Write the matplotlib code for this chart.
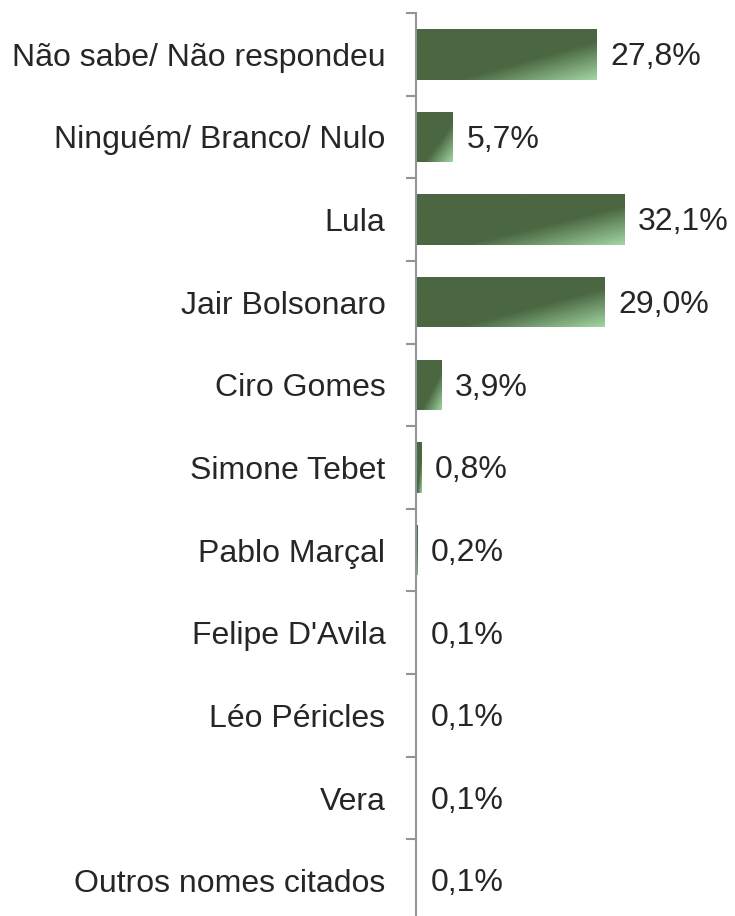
import numpy as np
import matplotlib.pyplot as plt
from matplotlib.colors import LinearSegmentedColormap

# Chart data
categories = [
    "Não sabe/ Não respondeu",
    "Ninguém/ Branco/ Nulo",
    "Lula",
    "Jair Bolsonaro",
    "Ciro Gomes",
    "Simone Tebet",
    "Pablo Marçal",
    "Felipe D'Avila",
    "Léo Péricles",
    "Vera",
    "Outros nomes citados",
]
values = [27.8, 5.7, 32.1, 29.0, 3.9, 0.8, 0.2, 0.1, 0.1, 0.1, 0.1]
value_labels = ["27,8%", "5,7%", "32,1%", "29,0%", "3,9%", "0,8%",
                "0,2%", "0,1%", "0,1%", "0,1%", "0,1%"]

plt.rcParams["font.family"] = ["Liberation Sans", "DejaVu Sans"]

fig = plt.figure(figsize=(7.35, 9.16), dpi=100)
# axis runs from y=13px to just below the bottom edge of the figure
ax = fig.add_axes([416 / 735, -6 / 916, 1 - 416 / 735, (916 - 13 + 6) / 916])

y = np.arange(len(categories))
bars = ax.barh(y, values, height=0.61, color="#4a6741")

# diagonal gradient: dark green to light green at the bottom-right corner
cmap = LinearSegmentedColormap.from_list(
    "grn", [(0, "#4a6741"), (0.62, "#4a6741"), (1, "#a2d4a2")])
nx, ny = 100, 40
u = np.linspace(0, 1, nx)[None, :]
d = np.linspace(0, 1, ny)[:, None]
grad = (u + d) / 2
for b in bars:
    x0, y0 = b.get_x(), b.get_y()
    w, h = b.get_width(), b.get_height()
    im = ax.imshow(grad, cmap=cmap, vmin=0, vmax=1, aspect="auto",
                   extent=[x0, x0 + w, y0 + h, y0], origin="upper",
                   interpolation="bilinear", zorder=2)
    im.set_clip_path(b)

for yi, v, lab in zip(y, values, value_labels):
    ax.annotate(lab, (v, yi), xytext=(10, -2), textcoords="offset points",
                va="center", ha="left", fontsize=23, color="#262626")

ax.set_xlim(0, 49.2)
ax.set_ylim(len(categories) - 0.5, -0.5)

ax.set_yticks(y)
ax.set_yticklabels(categories, fontsize=23, color="#262626")
ax.tick_params(axis="y", which="major", length=0, pad=22)
ax.set_yticks(np.arange(-0.5, len(categories)), minor=True)
ax.tick_params(axis="y", which="minor", length=7, width=1.5, color="#8e959c",
               direction="out")
ax.set_xticks([])

for s in ["top", "right", "bottom"]:
    ax.spines[s].set_visible(False)
ax.spines["left"].set_color("#8e959c")
ax.spines["left"].set_linewidth(1.5)

fig.savefig("out.png", dpi=100)
